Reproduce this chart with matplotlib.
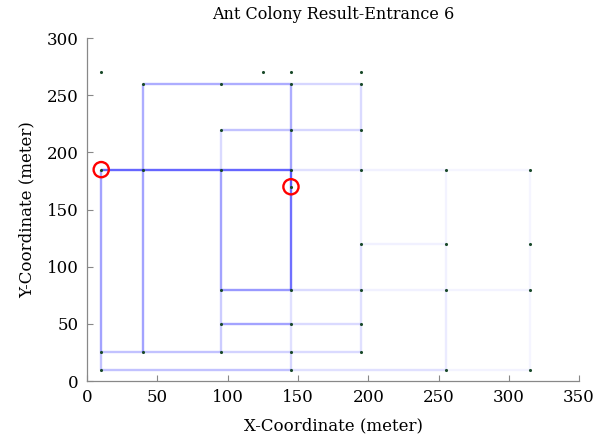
import matplotlib
matplotlib.use("Agg")
import matplotlib.pyplot as plt
from matplotlib.collections import LineCollection

# Nodes
node_x = [10, 125, 145, 195,
          40, 95, 145, 195,
          95, 145, 195,
          10, 40, 95, 145, 195, 255, 315,
          145,
          195, 255, 315,
          95, 145, 195, 255, 315,
          95, 145, 195,
          10, 40, 95, 145, 195,
          10, 145, 255, 315]
node_y = [270, 270, 270, 270,
          260, 260, 260, 260,
          220, 220, 220,
          185, 185, 185, 185, 185, 185, 185,
          170,
          120, 120, 120,
          80, 80, 80, 80, 80,
          50, 50, 50,
          25, 25, 25, 25, 25,
          10, 10, 10, 10]

# Edges: start x, start y, end x, end y, pheromone strength
edge_x1 = [10, 40, 95, 145, 145,
           10, 40, 40, 95, 95, 95, 145, 145, 40, 95,
           10, 40, 95, 95, 95, 10, 10,
           145, 145, 145, 95, 195, 195, 145, 145, 95, 145, 145, 145, 145, 145, 195, 195, 195, 195,
           195, 255, 195, 195, 255, 255, 255, 255, 255, 315, 315, 315]
edge_y1 = [185, 185, 185, 185, 170,
           25, 25, 185, 80, 80, 50, 185, 220, 260, 260,
           25, 25, 50, 25, 220, 10, 10,
           260, 220, 185, 185, 220, 185, 80, 50, 25, 25, 50, 25, 10, 10, 25, 50, 80, 120,
           185, 185, 120, 80, 80, 10, 10, 80, 120, 10, 80, 120]
edge_x2 = [40, 95, 145, 145, 145,
           10, 40, 40, 95, 145, 145, 145, 145, 95, 145,
           40, 95, 95, 95, 145, 145, 10,
           195, 195, 195, 95, 195, 195, 195, 195, 145, 195, 145, 145, 145, 255, 195, 195, 195, 195,
           255, 315, 255, 255, 315, 315, 255, 255, 255, 315, 315, 315]
edge_y2 = [185, 185, 185, 170, 80,
           185, 185, 260, 185, 80, 50, 220, 260, 260, 260,
           25, 25, 80, 50, 220, 10, 25,
           260, 220, 185, 220, 260, 220, 80, 50, 25, 25, 80, 50, 25, 10, 50, 80, 120, 185,
           185, 185, 120, 80, 80, 10, 80, 120, 185, 80, 120, 185]
edge_w = [0.75, 0.75, 0.75, 0.8, 0.7,
          0.45, 0.45, 0.4, 0.45, 0.5, 0.45, 0.45, 0.4, 0.4, 0.4,
          0.3, 0.3, 0.25, 0.25, 0.3, 0.3, 0.3,
          0.2, 0.2, 0.15, 0.18, 0.18, 0.12, 0.18, 0.18, 0.22, 0.18, 0.15, 0.15, 0.2, 0.15, 0.15, 0.15, 0.15, 0.08,
          0.07, 0.05, 0.07, 0.07, 0.06, 0.06, 0.1, 0.07, 0.06, 0.05, 0.05, 0.05]

# Start / end points (circled)
mark_x = [10, 145]
mark_y = [185, 170]

plt.rcParams['font.family'] = ['DejaVu Serif']

fig = plt.figure(figsize=(5.97, 4.34), dpi=100)
ax = fig.add_axes([0.146, 0.122, 0.824, 0.790])

segs = [[(a, b), (c, d)] for a, b, c, d in zip(edge_x1, edge_y1, edge_x2, edge_y2)]
cols = [(0.0, 0.0, 1.0, min(1.0, w * 0.8)) for w in edge_w]
ax.add_collection(LineCollection(segs, colors=cols, linewidths=1.7, zorder=1))

ax.scatter(node_x, node_y, s=5, color='#1a4a2a', zorder=3, linewidths=0)
ax.scatter(mark_x, mark_y, s=120, facecolors='none', edgecolors='#ff0000',
           linewidths=1.7, zorder=4)

ax.set_xlim(0, 350)
ax.set_ylim(0, 300)
ax.set_xticks(range(0, 351, 50))
ax.set_yticks(range(0, 301, 50))

for s in ['top', 'right']:
    ax.spines[s].set_visible(False)
for s in ['left', 'bottom']:
    ax.spines[s].set_color('#888888')
    ax.spines[s].set_linewidth(0.9)
ax.tick_params(direction='in', length=4, color='#888888', labelsize=12, pad=6)

ax.set_title('Ant Colony Result-Entrance 6', fontsize=11.5, pad=14)
ax.set_xlabel('X-Coordinate (meter)', fontsize=12, labelpad=8)
ax.set_ylabel('Y-Coordinate (meter)', fontsize=12, labelpad=8)

fig.savefig('out.png', dpi=100)
